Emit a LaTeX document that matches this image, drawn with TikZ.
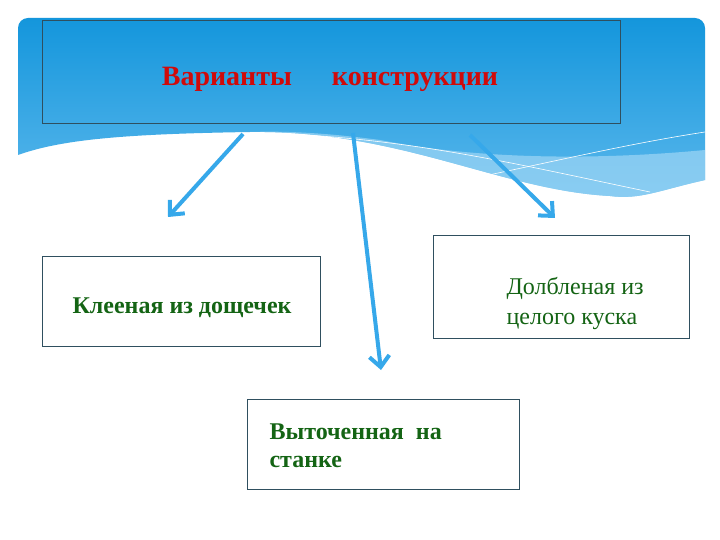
\documentclass[tikz,border=0pt]{standalone}
\usepackage{fontspec}
\setmainfont{Liberation Serif}
\usetikzlibrary{arrows.meta}
\definecolor{hdtop}{HTML}{1496DC}
\definecolor{hdbot}{HTML}{5BB8EC}
\definecolor{wave}{HTML}{9ED6F5}
\definecolor{arr}{HTML}{36A8EA}
\definecolor{bord}{HTML}{2F4F5F}
\definecolor{tgreen}{HTML}{146414}
\definecolor{tred}{HTML}{D00A0A}
\tikzset{box/.style={draw=bord,line width=0.8pt,fill=white},
 arrw/.style={draw=arr,line width=4pt,-{Straight Barb[length=11pt,width=20pt]}},
 txt/.style={text=tgreen,font=\fontsize{24}{30}\selectfont,align=left}}
\begin{document}
\begin{tikzpicture}[x=1pt,y=-1pt]
\useasboundingbox (0,0) rectangle (720,540);
\fill[white] (0,0) rectangle (720,540);
% header
\shade[top color=hdtop,bottom color=hdbot,rounded corners=10pt]
 (18,155) -- (18,18) -- (705,18) [sharp corners] -- (705,180) .. controls (660,190) and (640,200) .. (610,196)
 .. controls (500,190) and (400,130) .. (250,132)
 .. controls (120,134) and (60,140) .. (18,155) -- cycle;
\fill[wave,opacity=0.7] (250,132) .. controls (400,130) and (500,190) .. (610,196)
 .. controls (640,200) and (660,190) .. (705,180) -- (705,150) .. controls (600,160) and (480,160) .. (380,140) .. controls (320,132) and (280,131) .. (250,132) -- cycle;
\draw[white,line width=0.6pt] (250,133) .. controls (400,135) and (520,165) .. (650,192);
\draw[white,line width=0.6pt] (440,185) .. controls (540,165) and (620,145) .. (705,132);
\node[draw=bord,line width=0.6pt,minimum width=578pt,minimum height=103pt,anchor=north west] (t) at (42,20) {};
\node[text=tred,font=\bfseries\fontsize{28}{32}\selectfont] (tl) at (330,79) {Варианты\hspace{40pt}конструкции};
\node[box,minimum width=278pt,minimum height=90pt,anchor=north west] (a) at (42,256) {};
\node[txt,font=\bfseries\fontsize{24}{30}\selectfont] (at) at (182,308) {Клееная из дощечек};
\node[box,minimum width=256pt,minimum height=103pt,anchor=north west] (b) at (433,235) {};
\node[txt,anchor=west] (bt) at (503,303) {Долбленая из\\целого куска};
\node[box,minimum width=272pt,minimum height=90pt,anchor=north west] (c) at (247,399) {};
\node[txt,font=\bfseries\fontsize{24}{28}\selectfont,anchor=west] (ct) at (266,446) {Выточенная\hspace{6pt} на\\станке};
\coordinate (s1) at (243,134); \coordinate (e1) at (168,217);
\coordinate (s2) at (353,133); \coordinate (e2) at (381,370);
\coordinate (s3) at (470,135); \coordinate (e3) at (555,218);
\draw[arrw] (s1) -- (e1);
\draw[arrw] (s2) -- (e2);
\draw[arrw] (s3) -- (e3);
\end{tikzpicture}
\end{document}
